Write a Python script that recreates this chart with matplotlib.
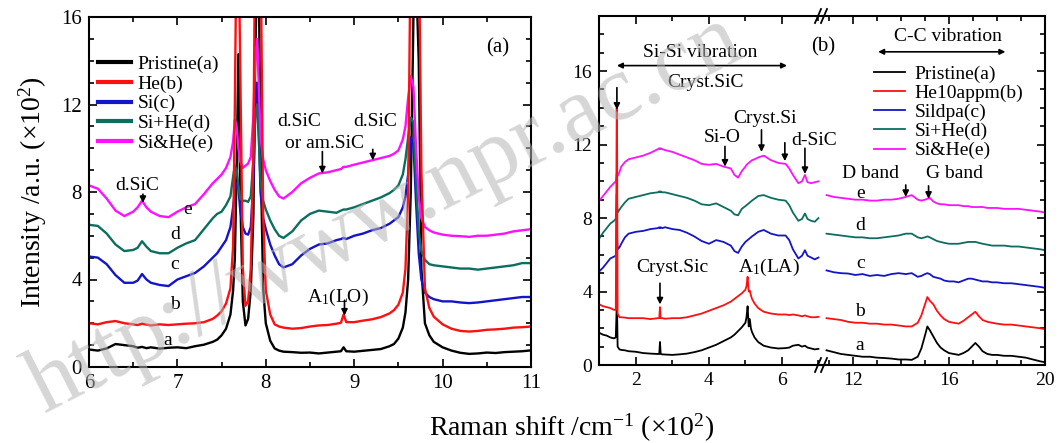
import matplotlib
matplotlib.use('Agg')
import matplotlib.pyplot as plt
from matplotlib.ticker import MultipleLocator, FixedLocator
from matplotlib.lines import Line2D

plt.rcParams['font.family'] = ['Liberation Serif', 'DejaVu Serif']
plt.rcParams['mathtext.fontset'] = 'custom'
plt.rcParams['mathtext.rm'] = 'Liberation Serif'
plt.rcParams['mathtext.it'] = 'Liberation Serif:italic'

# ---------------- data: panel (a) ----------------
xa = [6.0, 6.1, 6.2, 6.3, 6.4, 6.5, 6.55, 6.6, 6.65, 6.7, 6.8, 6.9, 7.0, 7.1, 7.2, 7.3, 7.4,
      7.45, 7.5, 7.55, 7.6, 7.63, 7.65, 7.67, 7.69, 7.71, 7.74, 7.77, 7.8, 7.83, 7.86, 7.88,
      7.9, 7.92, 7.94, 7.97, 8.0, 8.05, 8.1, 8.15, 8.2, 8.3, 8.4, 8.5, 8.6, 8.7, 8.8, 8.85,
      8.88, 8.91, 9.0, 9.1, 9.2, 9.3, 9.4, 9.45, 9.5, 9.55, 9.58, 9.61, 9.64, 9.67, 9.7,
      9.73, 9.76, 9.8, 9.85, 9.9, 10.0, 10.1, 10.2, 10.3, 10.4, 10.5, 10.6, 10.7, 10.8,
      10.9, 11.0]
ya_pristine = [0.80, 0.75, 0.85, 1.05, 1.00, 0.95, 0.88, 0.92, 0.86, 0.90, 0.84, 0.88, 0.90,
               0.86, 0.95, 1.02, 1.15, 1.25, 1.45, 1.75, 2.4, 3.5, 5.0, 9.0, 14.3, 8.0, 3.0,
               1.9, 2.2, 3.5, 7.0, 14.0, 18.0, 18.0, 10.0, 3.6, 2.0, 1.2, 0.85, 0.75, 0.70,
               0.68, 0.65, 0.66, 0.62, 0.66, 0.70, 0.72, 0.90, 0.72, 0.70, 0.74, 0.78, 0.82,
               0.95, 1.05, 1.30, 1.80, 2.5, 4.0, 8.0, 16.0, 18.0, 14.0, 4.5, 2.0, 1.45, 1.15,
               0.90, 0.75, 0.65, 0.60, 0.62, 0.66, 0.64, 0.68, 0.70, 0.72, 0.76]
ya_he = [2.00, 1.95, 2.05, 2.10, 2.00, 1.95, 1.92, 1.98, 1.94, 1.90, 1.95, 1.92, 1.95, 1.98,
         2.0, 2.05, 2.2, 2.35, 2.55, 2.9, 3.6, 5.5, 12.0, 20.0, 20.0, 14.0, 4.5, 2.8, 3.0, 4.5,
         10.0, 20.0, 20.0, 20.0, 20.0, 7.0, 3.5, 2.4, 1.95, 1.85, 1.80, 1.75, 1.78, 1.85, 1.90,
         1.92, 1.98, 2.02, 2.40, 2.05, 2.05, 2.12, 2.18, 2.28, 2.45, 2.6, 2.85, 3.4, 4.5, 8.0,
         20.0, 20.0, 20.0, 20.0, 9.0, 3.6, 2.7, 2.3, 1.95, 1.75, 1.65, 1.62, 1.65, 1.70, 1.72,
         1.75, 1.80, 1.82, 1.85]
ya_si = [5.05, 5.0, 4.7, 4.2, 3.85, 3.85, 3.95, 4.25, 4.0, 3.85, 3.75, 3.7, 4.0, 4.15, 4.3,
         4.6, 5.0, 5.2, 5.5, 5.8, 6.4, 7.3, 8.0, 8.4, 8.2, 7.2, 6.4, 6.1, 6.05, 6.4, 8.5, 11.5,
         13.0, 11.0, 8.0, 6.8, 6.3, 5.6, 5.1, 4.7, 4.55, 4.7, 5.1, 5.4, 5.6, 5.65, 5.8, 5.85,
         5.9, 5.85, 6.0, 6.1, 6.25, 6.35, 6.55, 6.7, 6.85, 7.3, 7.8, 8.8, 10.5, 10.2, 7.5, 5.2,
         4.0, 3.4, 3.2, 3.1, 3.0, 3.0, 2.95, 2.92, 2.95, 3.0, 3.05, 3.1, 3.15, 3.2, 3.2]
ya_sihe = [6.5, 6.45, 6.1, 5.6, 5.3, 5.35, 5.45, 5.75, 5.5, 5.3, 5.2, 5.2, 5.45, 5.65, 5.8,
           6.3, 6.8, 7.0, 7.1, 7.4, 7.8, 8.7, 9.2, 9.0, 8.3, 7.7, 7.6, 7.6, 7.55, 7.8, 9.5,
           11.5, 12.0, 10.5, 8.5, 7.6, 7.2, 6.7, 6.3, 6.0, 5.9, 6.2, 6.7, 7.0, 7.15, 7.1, 7.05,
           7.15, 7.2, 7.2, 7.3, 7.45, 7.6, 7.75, 7.95, 8.1, 8.3, 8.8, 9.5, 10.5, 11.4, 11.2,
           8.5, 6.2, 5.3, 4.9, 4.7, 4.65, 4.6, 4.55, 4.5, 4.5, 4.45, 4.5, 4.55, 4.6, 4.65,
           4.75, 4.75]
ya_siandhe = [8.3, 8.15, 7.7, 7.15, 6.9, 7.1, 7.3, 7.6, 7.3, 7.1, 6.9, 6.85, 7.1, 7.3, 7.45,
              7.9, 8.4, 8.6, 8.8, 9.1, 9.6, 10.3, 11.3, 11.0, 10.0, 9.4, 9.1, 9.2, 9.3, 9.6,
              11.5, 14.0, 15.0, 13.0, 10.5, 9.5, 9.0, 8.5, 8.1, 7.8, 7.7, 8.0, 8.4, 8.65, 8.85,
              8.9, 9.0, 9.05, 9.15, 9.15, 9.25, 9.35, 9.45, 9.55, 9.65, 9.75, 9.9, 10.4, 11.0,
              12.3, 13.3, 12.8, 10.0, 7.8, 6.8, 6.4, 6.25, 6.15, 6.05, 6.0, 5.98, 5.95, 6.0,
              6.0, 6.05, 6.1, 6.2, 6.25, 6.3]

# ---------------- data: panel (b), low-shift segment ----------------
xbl = [1.0, 1.1, 1.2, 1.3, 1.4, 1.45, 1.475, 1.485, 1.5, 1.55, 1.6, 1.7, 1.8, 2.0, 2.2, 2.4,
       2.6, 2.64, 2.66, 2.68, 2.72, 2.8, 3.0, 3.2, 3.4, 3.6, 3.8, 4.0, 4.2, 4.4, 4.6, 4.7,
       4.8, 4.9, 5.0, 5.03, 5.06, 5.09, 5.12, 5.15, 5.18, 5.25, 5.35, 5.5, 5.7, 5.9, 6.1,
       6.2, 6.3, 6.45, 6.55, 6.63, 6.7, 6.8, 6.9, 7.0]
ybl_pristine = [1.75, 1.65, 1.6, 1.5, 1.45, 1.5, 3.2, 3.0, 1.0, 0.85, 0.82, 0.8, 0.75, 0.72,
                0.65, 0.62, 0.6, 0.6, 1.25, 0.6, 0.58, 0.57, 0.55, 0.58, 0.62, 0.7, 0.8, 0.95,
                1.1, 1.3, 1.5, 1.65, 1.85, 2.05, 2.3, 2.6, 3.2, 2.1, 2.5, 2.0, 1.8, 1.5, 1.25,
                1.05, 0.95, 0.9, 0.92, 0.95, 1.05, 1.1, 1.0, 1.05, 0.95, 0.9, 0.85, 0.88]
ybl_he = [3.3, 3.2, 3.15, 3.1, 3.0, 3.0, 14.0, 13.0, 2.8, 2.6, 2.6, 2.58, 2.55, 2.55, 2.55,
          2.5, 2.55, 2.55, 3.15, 2.55, 2.55, 2.52, 2.55, 2.55, 2.6, 2.7, 2.8, 2.95, 3.1, 3.25,
          3.45, 3.6, 3.75, 3.9, 4.1, 4.3, 4.8, 4.0, 4.05, 3.8, 3.6, 3.35, 3.1, 2.9, 2.8, 2.75,
          2.75, 2.72, 2.75, 2.7, 2.65, 2.7, 2.65, 2.6, 2.6, 2.62]
ybl_si = [5.1, 5.3, 5.55, 5.8, 5.9, 5.95, 7.8, 7.0, 6.3, 6.4, 6.6, 6.95, 7.15, 7.25, 7.3, 7.4,
          7.45, 7.5, 7.45, 7.5, 7.45, 7.5, 7.4, 7.35, 7.2, 7.0, 6.75, 6.6, 6.8, 6.7, 6.5, 6.2,
          6.1, 6.45, 6.7, 6.75, 6.8, 6.85, 6.9, 6.95, 7.0, 7.1, 7.25, 7.35, 7.15, 7.05, 7.05,
          6.8, 6.3, 5.8, 5.95, 6.25, 5.95, 5.85, 5.75, 5.85]
ybl_sihe = [6.9, 7.2, 7.45, 7.7, 7.85, 7.95, 9.3, 8.8, 8.3, 8.45, 8.6, 8.85, 9.05, 9.15, 9.25,
            9.35, 9.4, 9.45, 9.4, 9.45, 9.4, 9.4, 9.3, 9.2, 9.1, 8.95, 8.75, 8.7, 8.8, 8.6,
            8.4, 8.2, 8.15, 8.5, 8.65, 8.7, 8.75, 8.8, 8.85, 8.9, 8.95, 9.05, 9.2, 9.25, 9.1,
            9.0, 8.95, 8.7, 8.3, 7.85, 7.95, 8.25, 7.95, 7.85, 7.8, 8.0]
ybl_siandhe = [8.95, 9.2, 9.45, 9.7, 9.9, 10.0, 10.4, 10.3, 10.3, 10.5, 10.8, 11.05, 11.2,
               11.3, 11.4, 11.55, 11.75, 11.8, 11.75, 11.8, 11.75, 11.7, 11.6, 11.45, 11.3,
               11.15, 10.95, 10.9, 10.95, 10.8, 10.7, 10.35, 10.2, 10.55, 10.8, 10.9, 10.95,
               11.0, 11.05, 11.1, 11.15, 11.2, 11.3, 11.4, 11.15, 11.0, 10.95, 10.7, 10.35,
               9.9, 10.0, 10.35, 9.95, 9.9, 9.95, 10.0]

# ---------------- data: panel (b), high-shift segment ----------------
xbr = [10.9, 11.2, 11.5, 11.8, 12.1, 12.4, 12.7, 13.0, 13.3, 13.6, 13.9, 14.2, 14.45, 14.7,
       14.85, 15.0, 15.1, 15.2, 15.35, 15.5, 15.65, 15.8, 16.0, 16.2, 16.4, 16.6, 16.8,
       16.95, 17.1, 17.25, 17.4, 17.6, 17.8, 18.0, 18.3, 18.6, 18.9, 19.2, 19.5, 19.8, 20.0]
ybr_pristine = [0.8, 0.7, 0.6, 0.55, 0.5, 0.45, 0.45, 0.4, 0.38, 0.35, 0.3, 0.3, 0.28, 0.45,
                0.9, 1.6, 2.1, 1.9, 1.55, 1.2, 0.95, 0.8, 0.65, 0.6, 0.55, 0.65, 0.8, 1.0,
                1.2, 1.0, 0.75, 0.6, 0.55, 0.55, 0.5, 0.5, 0.45, 0.4, 0.3, 0.2, 0.15]
ybr_he = [2.55, 2.5, 2.45, 2.35, 2.3, 2.3, 2.25, 2.25, 2.2, 2.2, 2.15, 2.1, 2.1, 2.3, 2.7,
          3.3, 3.7, 3.5, 3.3, 2.95, 2.7, 2.5, 2.35, 2.3, 2.25, 2.4, 2.6, 2.75, 2.9, 2.65,
          2.45, 2.35, 2.3, 2.25, 2.2, 2.2, 2.15, 2.1, 2.05, 2.0, 1.95]
ybr_si = [5.15, 5.05, 5.0, 4.98, 4.9, 4.95, 4.85, 4.9, 4.85, 4.95, 5.0, 4.95, 5.0, 4.8, 4.85,
          4.95, 5.0, 4.95, 4.8, 4.75, 4.7, 4.6, 4.55, 4.55, 4.5, 4.6, 4.7, 4.7, 4.65, 4.6,
          4.55, 4.55, 4.5, 4.5, 4.45, 4.45, 4.4, 4.35, 4.3, 4.25, 4.2]
ybr_sihe = [7.15, 7.1, 7.05, 7.0, 6.95, 6.95, 6.9, 6.9, 6.95, 7.0, 7.05, 7.15, 7.15, 6.95,
            6.9, 6.95, 7.0, 6.95, 6.85, 6.75, 6.7, 6.65, 6.6, 6.6, 6.6, 6.65, 6.7, 6.7, 6.7,
            6.65, 6.6, 6.55, 6.5, 6.5, 6.5, 6.45, 6.45, 6.4, 6.35, 6.3, 6.25]
ybr_siandhe = [9.25, 9.15, 9.1, 9.05, 9.0, 9.0, 8.95, 8.95, 9.0, 9.0, 9.05, 9.15, 9.25, 9.0,
               8.95, 9.0, 9.05, 9.1, 8.9, 8.8, 8.75, 8.75, 8.7, 8.7, 8.7, 8.65, 8.65, 8.6,
               8.6, 8.6, 8.6, 8.55, 8.55, 8.55, 8.5, 8.5, 8.5, 8.45, 8.4, 8.35, 8.3]

labels_a = ['Pristine(a)', 'He(b)', 'Si(c)', 'Si+He(d)', 'Si&He(e)']
labels_b = ['Pristine(a)', 'He10appm(b)', 'Sildpa(c)', 'Si+He(d)', 'Si&He(e)']
colors = ['#000000', '#ff1010', '#1414c8', '#0b6e5e', '#ff10ff']
draw_order = [0, 2, 3, 4, 1]

W, H = 1061, 443
fig = plt.figure(figsize=(W / 100, H / 100), dpi=100)


def box(l, r, t, b):
    return [l / W, (H - b) / H, (r - l) / W, (b - t) / H]


axa = fig.add_axes(box(89, 531, 17, 367))
axb1 = fig.add_axes(box(599, 821, 16, 365))
axb2 = fig.add_axes(box(821, 1045, 16, 365))
for ax in (axb1, axb2):
    ax.patch.set_visible(False)

# ---- panel (a) ----
ya_all = [ya_pristine, ya_he, ya_si, ya_sihe, ya_siandhe]
for i in draw_order:
    axa.plot(xa, ya_all[i], color=colors[i], lw=1.7, label=labels_a[i])
axa.set_xlim(6, 11)
axa.set_ylim(0, 16)
axa.xaxis.set_major_locator(MultipleLocator(1))
axa.xaxis.set_minor_locator(MultipleLocator(0.5))
axa.yaxis.set_major_locator(MultipleLocator(4))
axa.yaxis.set_minor_locator(MultipleLocator(1))

handles = [Line2D([], [], color=colors[i], lw=3) for i in range(5)]
axa.legend(handles, labels_a, loc='upper left', bbox_to_anchor=(0.02, 0.89), frameon=False,
           fontsize=14, handlelength=1.7, handletextpad=0.35, labelspacing=0.1,
           borderpad=0, borderaxespad=0)

fs = 14


def arrow(ax, x, y0, y1):
    ax.annotate('', xy=(x, y1), xytext=(x, y0),
                arrowprops=dict(arrowstyle='-|>', color='k', lw=1.2, mutation_scale=9,
                                shrinkA=0, shrinkB=0))


axa.text(10.62, 14.6, '(a)', fontsize=15, ha='center', va='center')
axa.text(6.55, 8.3, 'd.SiC', fontsize=fs, ha='center', va='center')
arrow(axa, 6.61, 7.9, 7.5)
axa.text(8.38, 11.2, 'd.SiC', fontsize=fs, ha='center', va='center')
axa.text(8.66, 10.2, 'or am.SiC', fontsize=fs, ha='center', va='center')
arrow(axa, 8.64, 9.85, 8.85)
axa.text(9.24, 11.2, 'd.SiC', fontsize=fs, ha='center', va='center')
arrow(axa, 9.21, 9.95, 9.45)
axa.text(8.82, 3.2, r'A$_\mathrm{1}$(LO)', fontsize=fs, ha='center', va='center')
arrow(axa, 8.89, 3.05, 2.35)
for lab, xx, yy in [('e', 7.11, 7.2), ('d', 6.97, 6.05), ('c', 6.97, 4.7), ('b', 6.97, 2.85),
                    ('a', 6.89, 1.2)]:
    axa.text(xx, yy, lab, fontsize=fs, ha='center', va='center')

# ---- panel (b) ----
ybl_all = [ybl_pristine, ybl_he, ybl_si, ybl_sihe, ybl_siandhe]
ybr_all = [ybr_pristine, ybr_he, ybr_si, ybr_sihe, ybr_siandhe]
for i in draw_order:
    axb1.plot(xbl, ybl_all[i], color=colors[i], lw=1.3)
    axb2.plot(xbr, ybr_all[i], color=colors[i], lw=1.3)
axb1.set_xlim(0.99, 7.07)
axb2.set_xlim(10.67, 20)
for ax in (axb1, axb2):
    ax.set_ylim(0, 19)
    ax.yaxis.set_major_locator(MultipleLocator(4))
    ax.yaxis.set_minor_locator(MultipleLocator(1))
axb1.xaxis.set_major_locator(FixedLocator([2, 4, 6]))
axb1.xaxis.set_minor_locator(FixedLocator([1, 3, 5, 7]))
axb2.xaxis.set_major_locator(FixedLocator([12, 16, 20]))
axb2.xaxis.set_minor_locator(FixedLocator([11, 13, 14, 15, 17, 18, 19]))

hb = [Line2D([], [], color=colors[i], lw=1.3) for i in range(5)]
axb2.legend(hb, labels_b, loc='upper left', bbox_to_anchor=(0.235, 0.86), frameon=False,
            fontsize=14, handlelength=1.6, handletextpad=0.5, labelspacing=0.08,
            borderpad=0, borderaxespad=0)


def darrow(ax, x0, x1, y):
    ax.annotate('', xy=(x1, y), xytext=(x0, y),
                arrowprops=dict(arrowstyle='<|-|>', color='k', lw=1.2, mutation_scale=8,
                                shrinkA=0, shrinkB=0))


axb1.text(3.75, 17.0, 'Si-Si vibration', fontsize=fs, ha='center', va='center')
darrow(axb1, 1.48, 6.14, 16.3)
axb1.text(3.9, 15.4, 'Cryst.SiC', fontsize=fs, ha='center', va='center')
arrow(axb1, 1.48, 15.1, 13.9)
axb1.text(7.12, 17.3, '(b)', fontsize=15, ha='center', va='center')
axb1.text(4.36, 12.4, 'Si-O', fontsize=fs, ha='center', va='center')
arrow(axb1, 4.44, 11.9, 10.8)
axb1.text(5.53, 13.4, 'Cryst.Si', fontsize=fs, ha='center', va='center')
arrow(axb1, 5.44, 12.8, 11.6)
arrow(axb1, 6.08, 12.1, 11.1)
axb1.text(6.88, 12.2, 'd-SiC', fontsize=fs, ha='center', va='center')
arrow(axb1, 6.63, 11.8, 10.4)
axb1.text(3.0, 5.3, 'Cryst.Sic', fontsize=fs, ha='center', va='center')
arrow(axb1, 2.66, 4.45, 3.3)
axb1.text(5.65, 5.3, r'A$_\mathrm{1}$(LA)', fontsize=fs, ha='center', va='center')

axb2.text(15.95, 17.9, 'C-C vibration', fontsize=fs, ha='center', va='center')
darrow(axb2, 13.05, 18.35, 17.05)
axb2.text(12.75, 10.45, 'D band', fontsize=fs, ha='center', va='center')
axb2.text(16.25, 10.45, 'G band', fontsize=fs, ha='center', va='center')
arrow(axb2, 14.2, 9.8, 9.15)
arrow(axb2, 15.15, 9.75, 9.05)
for lab, yy in [('e', 9.35), ('d', 7.6), ('c', 5.5), ('b', 2.9), ('a', 1.05)]:
    axb2.text(12.3, yy, lab, fontsize=fs, ha='center', va='center')

# ---- axes styling ----
for ax in (axa, axb1, axb2):
    ax.tick_params(which='both', direction='in', top=True, right=True, width=1.2)
    ax.tick_params(which='major', length=6, labelsize=15, pad=5)
    ax.tick_params(which='minor', length=3.5)
    for s in ax.spines.values():
        s.set_linewidth(1.5)
for ax in (axb1, axb2):
    ax.tick_params(which='major', labelsize=14)
axb1.spines['right'].set_visible(False)
axb1.tick_params(which='both', right=False)
axb2.spines['left'].set_visible(False)
axb2.tick_params(which='both', left=False, labelleft=False)

# break marks
xc = 821
for yb in (16, 365):
    for dx in (-3, 3):
        fig.add_artist(Line2D([(xc + dx - 3) / W, (xc + dx + 3) / W],
                              [(H - yb - 7) / H, (H - yb + 7) / H],
                              color='k', lw=1.3))

axa.set_ylabel(r'Intensity /a.u. (×10$^\mathrm{2}$)', fontsize=20, labelpad=9)
fig.text(572 / W, 1 - 428 / H, r'Raman shift /cm$^\mathrm{-1}$ (×10$^\mathrm{2}$)',
         fontsize=20, ha='center', va='center')

# faint watermark present in the reference image
fig.text(385 / W, 1 - 215 / H, 'http://www.npr.ac.cn', fontsize=68, rotation=27,
         color='#b4b4b4', alpha=0.55, ha='center', va='center', zorder=10)

fig.savefig('out.png', dpi=100)
